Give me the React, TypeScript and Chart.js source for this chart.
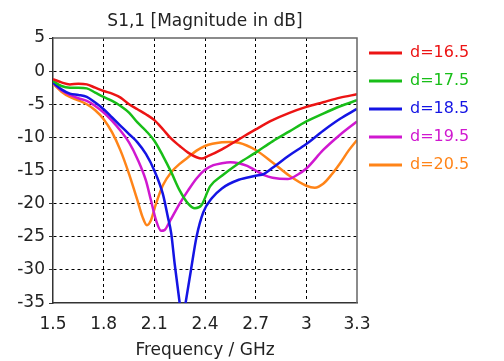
import React, { useEffect, useRef } from "react";
import { Chart, registerables } from "chart.js";

Chart.register(...registerables);

const FONT = "'DejaVu Sans', Verdana, sans-serif";

const seriesLabels = ["d=16.5", "d=17.5", "d=18.5", "d=19.5", "d=20.5"];
const seriesColors = ["rgb(236,20,20)", "rgb(24,190,24)", "rgb(20,20,228)", "rgb(208,24,208)", "rgb(255,132,24)"];

const freq165 = [1.5, 1.55, 1.6, 1.65, 1.7, 1.75, 1.8, 1.85, 1.9, 1.95, 2.0, 2.05, 2.1, 2.15, 2.2, 2.25, 2.3, 2.35, 2.38, 2.42, 2.5, 2.6, 2.7, 2.8, 2.9, 3.0, 3.1, 3.2, 3.3];
const db165 = [-1.2, -1.7, -2.0, -1.9, -2.0, -2.5, -3.0, -3.4, -4.0, -5.0, -5.75, -6.5, -7.4, -8.75, -10.2, -11.3, -12.3, -13.0, -13.2, -12.8, -11.8, -10.3, -8.8, -7.4, -6.3, -5.4, -4.7, -4.0, -3.5];

const freq175 = [1.5, 1.55, 1.6, 1.65, 1.7, 1.75, 1.8, 1.85, 1.9, 1.95, 2.0, 2.05, 2.1, 2.15, 2.2, 2.25, 2.3, 2.34, 2.38, 2.43, 2.5, 2.6, 2.7, 2.8, 2.9, 3.0, 3.1, 3.2, 3.3];
const db175 = [-1.5, -2.25, -2.5, -2.5, -2.6, -3.25, -3.9, -4.5, -5.25, -6.25, -7.75, -9.0, -10.5, -12.75, -15.25, -18.0, -20.0, -20.7, -20.2, -17.4, -15.8, -13.9, -12.3, -10.6, -9.1, -7.6, -6.4, -5.3, -4.4];

const freq185 = [1.5, 1.55, 1.6, 1.65, 1.7, 1.75, 1.8, 1.85, 1.9, 1.95, 2.0, 2.05, 2.1, 2.15, 2.18, 2.2, 2.22, 2.25, 2.267, 2.285, 2.317, 2.35, 2.39, 2.44, 2.5, 2.6, 2.7, 2.75, 2.8, 2.9, 3.0, 3.1, 3.2, 3.3];
const db185 = [-1.75, -2.75, -3.4, -3.6, -3.9, -4.75, -5.75, -7.0, -8.25, -9.5, -10.75, -12.5, -15.0, -18.5, -22.0, -24.5, -29.0, -35.0, -38.0, -35.0, -30.0, -25.0, -21.3, -19.2, -17.7, -16.4, -15.8, -15.5, -14.6, -12.7, -11.0, -9.0, -7.2, -5.7];

const freq195 = [1.5, 1.55, 1.6, 1.65, 1.7, 1.75, 1.8, 1.85, 1.9, 1.95, 2.0, 2.05, 2.08, 2.11, 2.14, 2.16, 2.19, 2.25, 2.3, 2.35, 2.4, 2.45, 2.5, 2.55, 2.6, 2.65, 2.7, 2.75, 2.8, 2.89, 2.95, 3.0, 3.1, 3.2, 3.3];
const db195 = [-1.75, -2.9, -3.6, -4.1, -4.5, -5.25, -6.25, -7.5, -9.0, -10.75, -13.25, -16.5, -19.5, -22.5, -24.1, -24.0, -22.75, -20.0, -18.0, -16.2, -14.9, -14.2, -13.9, -13.75, -13.9, -14.3, -15.0, -15.7, -16.1, -16.3, -15.6, -14.7, -11.9, -9.6, -7.6];

const freq205 = [1.5, 1.55, 1.6, 1.65, 1.7, 1.75, 1.8, 1.85, 1.9, 1.95, 2.0, 2.03, 2.056, 2.08, 2.11, 2.15, 2.2, 2.25, 2.3, 2.35, 2.4, 2.5, 2.55, 2.6, 2.7, 2.8, 2.9, 3.0, 3.05, 3.1, 3.15, 3.2, 3.25, 3.3];
const db205 = [-1.9, -3.1, -3.9, -4.4, -5.0, -5.9, -7.25, -9.25, -12.0, -15.5, -19.5, -22.0, -23.25, -22.5, -20.0, -17.25, -15.25, -14.0, -13.0, -12.0, -11.3, -10.75, -10.7, -10.8, -11.9, -13.8, -15.8, -17.3, -17.6, -17.0, -15.6, -13.9, -12.0, -10.4];

const seriesFreqs = [freq165, freq175, freq185, freq195, freq205];
const seriesValues = [db165, db175, db185, db195, db205];

const titleText = "S1,1 [Magnitude in dB]";
const xTitle = "Frequency / GHz";
const xMin = 1.5;
const xMax = 3.3;
const xStep = 0.3;
const yMin = -35;
const yMax = 5;
const yStep = 5;

const framePlugin = {
  id: "frame",
  afterDatasetsDraw(chart: any) {
    const { ctx, chartArea } = chart;
    ctx.save();
    ctx.strokeStyle = "#666";
    ctx.lineWidth = 1.5;
    ctx.beginPath();
    ctx.moveTo(chartArea.left, chartArea.top);
    ctx.lineTo(chartArea.right, chartArea.top);
    ctx.lineTo(chartArea.right, chartArea.bottom);
    ctx.stroke();
    ctx.restore();
  },
};

export default function App() {
  const ref = useRef<HTMLCanvasElement | null>(null);

  useEffect(() => {
    if (!ref.current) return;
    const datasets = seriesLabels.map((label, i) => ({
      label,
      data: seriesFreqs[i].map((f, j) => ({ x: f, y: seriesValues[i][j] })),
      borderColor: seriesColors[i],
      backgroundColor: seriesColors[i],
      borderWidth: 2.5,
      pointRadius: 0,
      fill: false,
      cubicInterpolationMode: "monotone" as const,
      clip: 0,
    }));

    const edgeColor = (ctx: any) => {
      const n = ctx.scale && ctx.scale.ticks ? ctx.scale.ticks.length : 0;
      if (ctx.index === 0 || ctx.index === n - 1) return "rgba(0,0,0,0)";
      return "#000";
    };

    const chart = new Chart(ref.current, {
      type: "line",
      data: { datasets },
      plugins: [framePlugin],
      options: {
        animation: false,
        responsive: false,
        maintainAspectRatio: false,
        layout: { padding: { left: 0, right: 28, top: 0, bottom: 0 } },
        scales: {
          x: {
            type: "linear",
            min: xMin,
            max: xMax,
            afterFit: (s: any) => {
              s.height = 58;
            },
            ticks: {
              stepSize: xStep,
              color: "#222",
              padding: 11,
              font: { family: FONT, size: 17 },
              maxRotation: 0,
              callback: (v: any) => String(Math.round(Number(v) * 10) / 10),
            },
            grid: { color: edgeColor, lineWidth: 1, drawTicks: false },
            border: { display: true, color: "#333", width: 1.5, dash: [3, 3] },
            title: {
              display: true,
              text: xTitle,
              color: "#222",
              font: { family: FONT, size: 17 },
              padding: { top: 0, bottom: 0 },
            },
          },
          y: {
            type: "linear",
            min: yMin,
            max: yMax,
            afterFit: (s: any) => {
              s.width = 53;
            },
            ticks: {
              stepSize: yStep,
              color: "#222",
              padding: 4,
              font: { family: FONT, size: 17 },
            },
            grid: { color: edgeColor, lineWidth: 1, tickLength: 4, tickColor: "#333" },
            border: { display: true, color: "#333", width: 1.5, dash: [3, 3] },
          },
        },
        plugins: {
          tooltip: { enabled: false },
          title: {
            display: true,
            text: titleText,
            fullSize: false,
            color: "#222",
            font: { family: FONT, size: 17, weight: "normal" },
            padding: { top: 11, bottom: 6.6 },
          },
          legend: {
            display: true,
            position: "right",
            align: "start",
            title: {
              display: true,
              text: " ",
              font: { size: 10 },
              padding: { top: 0, bottom: 21 },
            },
            labels: {
              usePointStyle: true,
              pointStyle: "line",
              pointStyleWidth: 33,
              padding: 12,
              font: { family: FONT, size: 16 },
              generateLabels: (c: any) =>
                Chart.defaults.plugins.legend.labels.generateLabels(c).map((it: any) => ({
                  ...it,
                  fontColor: it.strokeStyle,
                  lineWidth: 3,
                })),
            },
          },
        },
      } as any,
    });
    return () => chart.destroy();
  }, []);

  return (
    <div style={{ position: "fixed", left: 0, top: 0, width: 504, height: 361, background: "#fff" }}>
      <canvas ref={ref} width={504} height={361} style={{ width: 504, height: 361 }} />
    </div>
  );
}
